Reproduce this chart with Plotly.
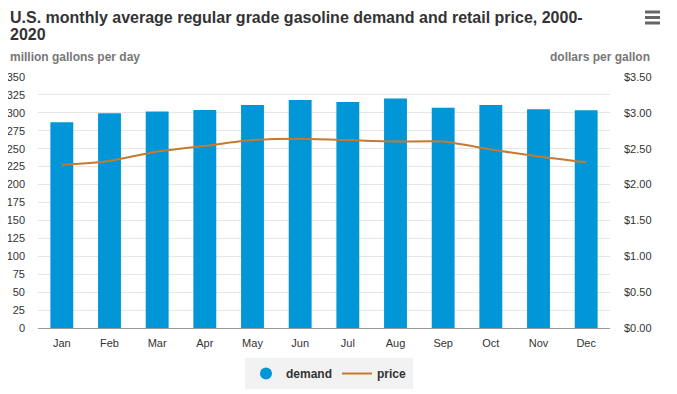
import plotly.graph_objects as go

months = ["Jan", "Feb", "Mar", "Apr", "May", "Jun", "Jul", "Aug", "Sep", "Oct", "Nov", "Dec"]
demand = [287, 299.5, 302, 304, 311, 318, 315, 320, 307, 311, 305, 303.5]
price = [2.275, 2.33, 2.46, 2.54, 2.62, 2.64, 2.62, 2.60, 2.60, 2.49, 2.39, 2.31]
left_ticks = list(range(0, 351, 25))
right_ticks = [0, 0.5, 1.0, 1.5, 2.0, 2.5, 3.0, 3.5]

FONT = "Liberation Sans, Arial, sans-serif"
BAR_COLOR = "#0096d7"
LINE_COLOR = "#c47a2f"

fig = go.Figure()
fig.add_trace(go.Bar(x=months, y=demand, name="demand", marker_color=BAR_COLOR,
                     marker_line_width=0, showlegend=False, yaxis="y"))
fig.add_trace(go.Scatter(x=[None], y=[None], mode="markers", name="demand",
                         marker=dict(symbol="circle", size=12, color=BAR_COLOR)))
fig.add_trace(go.Scatter(x=months, y=price, name="price", mode="lines",
                         line=dict(color=LINE_COLOR, width=2, shape="spline", smoothing=0.6),
                         yaxis="y2"))

# page has an 8px body margin: work in figure coords = screen coords - 8
OFF = 8
W, H = 677 - OFF, 394 - OFF
L, R, T, B = 38 - OFF, 677 - 610, 77 - OFF, 394 - 328
PW, PH = W - L - R, H - T - B


def px(sx):
    return (sx - OFF - L) / PW


def py(sy):
    return (H - B - (sy - OFF)) / PH


fig.update_layout(
    width=W, height=H,
    margin=dict(l=L, r=R, t=T, b=B, autoexpand=False),
    paper_bgcolor="white", plot_bgcolor="white",
    font=dict(family=FONT, color="#333333", size=11),
    bargap=0.52,
    xaxis=dict(showgrid=False, showline=True, linecolor="#999999", linewidth=1,
               ticks="", tickfont=dict(size=11, color="#333333"), ticklabelstandoff=5,
               fixedrange=True),
    yaxis=dict(range=[0, 350], tickvals=left_ticks, showgrid=True, gridcolor="#e6e6e6",
               gridwidth=1, zeroline=False, showline=False, ticks="",
               tickfont=dict(size=11, color="#333333"), ticklabelstandoff=12),
    yaxis2=dict(range=[0, 3.5], tickvals=right_ticks, tickformat="$.2f",
                overlaying="y", side="right", showgrid=False, zeroline=False, showline=False,
                ticks="", tickfont=dict(size=11, color="#333333"), ticklabelstandoff=13),
    legend=dict(orientation="h", xref="container", yref="container",
                x=(329 - OFF) / W, xanchor="center", y=1 - (358 - OFF) / H, yanchor="top",
                bgcolor="#f2f2f2", bordercolor="#f2f2f2", borderwidth=1,
                font=dict(family=FONT, size=12, color="#333333", weight="bold"),
                itemwidth=30, traceorder="normal"),
    annotations=[
        dict(text="U.S. monthly average regular grade gasoline demand and retail price, 2000-",
             xref="paper", yref="paper", x=px(OFF), y=py(17), xanchor="left", yanchor="middle",
             showarrow=False, font=dict(family=FONT, size=16, color="#333333", weight="bold")),
        dict(text="2020",
             xref="paper", yref="paper", x=px(OFF), y=py(35), xanchor="left", yanchor="middle",
             showarrow=False, font=dict(family=FONT, size=16, color="#333333", weight="bold")),
        dict(text="million gallons per day", xref="paper", yref="paper",
             x=px(OFF), y=py(57), xanchor="left", yanchor="middle",
             showarrow=False, font=dict(family=FONT, size=12, color="#777777", weight="bold")),
        dict(text="dollars per gallon", xref="paper", yref="paper",
             x=px(652), y=py(57), xanchor="right", yanchor="middle", showarrow=False,
             font=dict(family=FONT, size=12, color="#777777", weight="bold")),
    ],
)

# hamburger menu icon
for sy in (12, 17.5, 23):
    fig.add_shape(type="line", xref="paper", yref="paper",
                  x0=px(645), x1=px(660), y0=py(sy), y1=py(sy),
                  line=dict(color="#666666", width=3))

fig.write_html("out.html")
